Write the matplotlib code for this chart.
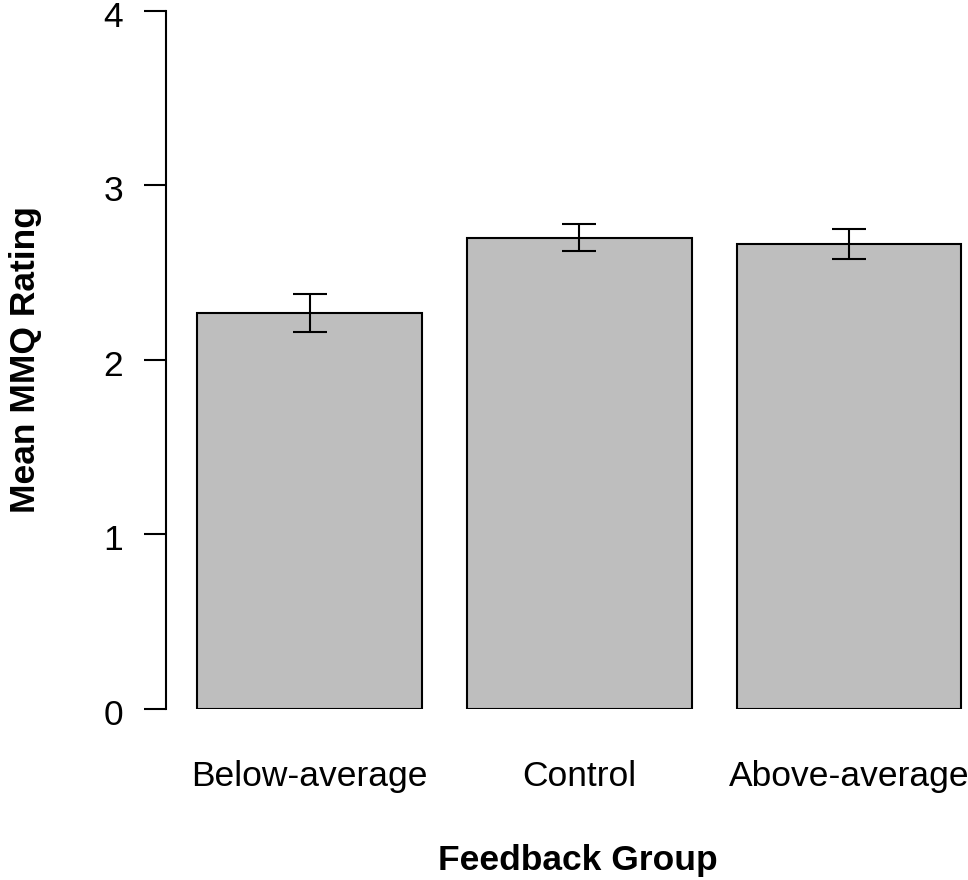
import matplotlib
matplotlib.use("Agg")
import matplotlib.pyplot as plt
import matplotlib.transforms as mtransforms

plt.rcParams['font.family'] = ['Liberation Sans', 'DejaVu Sans']

categories = ["Below-average", "Control", "Above-average"]
means = [2.27, 2.70, 2.665]
errors = [0.11, 0.078, 0.086]
yticks = [0, 1, 2, 3, 4]

W, H = 968, 880
fig = plt.figure(figsize=(W / 100, H / 100), dpi=100)
ax = fig.add_axes([166 / W, 171 / H, (W - 166) / W, (709 - 10.7) / H])

x = [0.7, 1.9, 3.1]
ax.bar(x, means, width=1.0, color="#BEBEBE", edgecolor="black", linewidth=1.5, zorder=2)
ax.errorbar(x, means, yerr=errors, fmt="none", ecolor="black", elinewidth=1.5,
            capsize=12, capthick=1.5, zorder=3)

ax.set_xlim(0.0607, 3.63)
ax.set_ylim(0, 4)
for s in ["top", "right", "bottom"]:
    ax.spines[s].set_visible(False)
ax.spines["left"].set_linewidth(1.5)
ax.set_xticks([])
ax.set_yticks(yticks)
ax.set_yticklabels([str(t) for t in yticks], fontsize=25.5)
ax.tick_params(axis="y", direction="out", length=15.8, width=1.5, pad=15)
shift = mtransforms.ScaledTranslation(0, -0.03, fig.dpi_scale_trans)
for lab in ax.get_yticklabels():
    lab.set_transform(lab.get_transform() + shift)

trans = mtransforms.blended_transform_factory(ax.transData, fig.transFigure)
for xi, c in zip(x, categories):
    ax.text(xi, (H - 786) / H, c, transform=trans, ha="center", va="baseline",
            fontsize=25.5, clip_on=False)

fig.text(578 / W, (H - 870) / H, "Feedback Group", ha="center", va="baseline",
         fontsize=25.5, fontweight="bold")
fig.text(35 / W, (H - 360) / H, "Mean MMQ Rating", ha="center", va="baseline",
         rotation=90, rotation_mode="anchor", fontsize=25.5, fontweight="bold")

fig.savefig("out.png", dpi=100)
